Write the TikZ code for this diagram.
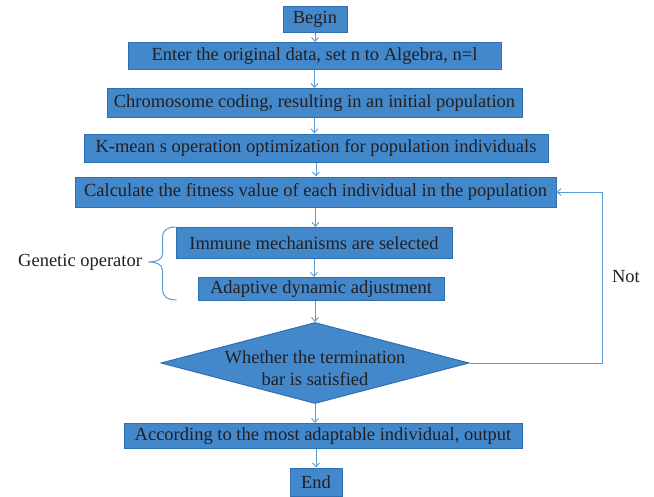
\documentclass[tikz,border=0pt]{standalone}
\usepackage{fontspec}
\setmainfont{Liberation Serif}
\newfontfamily\flowfont{Liberation Serif}
\usetikzlibrary{shapes.geometric,arrows.meta,positioning}
\definecolor{boxfill}{RGB}{68,136,204}
\definecolor{boxline}{RGB}{46,110,178}
\definecolor{arrowblue}{RGB}{91,155,213}
\definecolor{inktext}{RGB}{35,31,32}
\begin{document}
\begin{tikzpicture}[x=1pt,y=-1pt,font=\flowfont\fontsize{18.5}{22}\selectfont,text=inktext,
  box/.style={draw=boxline,fill=boxfill,line width=1pt,inner sep=0pt,minimum height=30pt},
  decision/.style={diamond,draw=boxline,fill=boxfill,line width=1pt,inner sep=0pt},
  line/.style={draw=arrowblue,line width=0.9pt,-{Straight Barb[length=4pt,width=7pt]}},
  brace/.style={draw=arrowblue,line width=1pt}]
\useasboundingbox (0,0) rectangle (654,496);
\node [box,minimum width=64pt,minimum height=26pt] (begin) at (315,19) {Begin};
\node [box,minimum width=373pt,minimum height=27pt] (enter) at (314.5,56) {Enter the original data, set n to Algebra, n=l};
\node [box,minimum width=415pt,minimum height=29pt] (chrom) at (314.5,103) {Chromosome coding, resulting in an initial population};
\node [box,minimum width=464pt,minimum height=28pt] (kmean) at (316,148) {K-mean s operation optimization for population individuals};
\node [box,minimum width=481pt] (calc) at (315.5,192) {Calculate the fitness value of each individual in the population};
\node [box,minimum width=276pt,minimum height=31pt] (immune) at (314,243) {Immune mechanisms are selected};
\node [box,minimum width=246pt,minimum height=23pt] (adapt) at (321,289) {Adaptive dynamic adjustment};
\node [decision,minimum width=308pt,minimum height=81pt,
  label={[align=center,yshift=-5pt]center:Whether the termination\\bar is satisfied}] (stop) at (315,363) {};
\node [box,minimum width=398pt,minimum height=25pt] (output) at (323,436) {According to the most adaptable individual, output};
\node [box,minimum width=52pt,minimum height=28pt] (finish) at (316,482) {End};
% main flow
\draw [line] (begin.south) -- (begin.south |- enter.north);
\draw [line] (enter.south) -- (enter.south |- chrom.north);
\draw [line] (chrom.south) -- (chrom.south |- kmean.north);
\draw [line] (kmean.south) -- (kmean.south |- calc.north);
\draw [line] (calc.south) -- (calc.south |- immune.north);
\draw [line] (immune.south) -- (immune.south |- adapt.north);
\draw [line] (stop.north |- adapt.south) -- (stop.north);
\draw [line] (stop.south) -- (stop.south |- output.north);
\draw [line] (finish.north |- output.south) -- (finish.north);
% loop back
\coordinate (loop) at (602,0);
\draw [line] (stop.east) -- (stop.east -| loop) |- (calc.east);
\node (no) at (626,277) {Not};
% brace
\draw [brace] (immune.north west) .. controls +(-9,0) and +(0,-6) .. ++(-13,10)
  -- ++(0,17) .. controls +(0,6) and +(7,0) .. ++(-14,8) coordinate (tip)
  .. controls +(7,0) and +(0,-6) .. ++(14,8)
  -- ++(0,20) .. controls +(0,6) and +(-9,0) .. ++(14,10);
\node [left=3pt of tip] (genop) {Genetic operator};
\end{tikzpicture}
\end{document}
